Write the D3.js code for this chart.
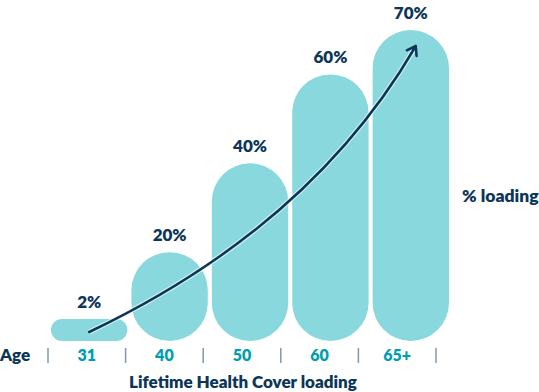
<!DOCTYPE html>
<html>
<head>
<meta charset="utf-8">
<script src="https://cdn.jsdelivr.net/npm/d3@7"></script>
<style>
  body { margin: 0; background: #fff; }
  text { font-family: Lato, "Open Sans", sans-serif; font-weight: 800; }
</style>
</head>
<body>
<div id="chart"></div>
<script>
// data
const ages = ["31", "40", "50", "60", "65+"];
const loadings = [2, 20, 40, 60, 70];
const loadingLabels = ["2%", "20%", "40%", "60%", "70%"];

const width = 539;
const height = 392;
const baseline = 341;

const navy = "#0b3657";
const teal = "#009fb0";
const barFill = "#88d8dd";

const svg = d3
  .select("#chart")
  .append("svg")
  .attr("width", width)
  .attr("height", height)
  .attr("viewBox", [0, 0, width, height]);

// bar scale
const x = d3.scaleBand().domain(ages).range([51, 449]).paddingInner(0.05);
const y = d3.scaleLinear().domain([0, 70]).range([baseline, 30]);
const minH = 22;
const barTop = (v) => Math.min(y(v), baseline - minH);

const data = ages.map((a, i) => ({ age: a, value: loadings[i], label: loadingLabels[i] }));

svg
  .append("g")
  .attr("fill", barFill)
  .selectAll("rect")
  .data(data)
  .join("rect")
  .attr("x", (d) => x(d.age))
  .attr("y", (d) => barTop(d.value))
  .attr("width", x.bandwidth())
  .attr("height", (d) => baseline - barTop(d.value))
  .attr("rx", (d) => Math.min(x.bandwidth() / 2, (baseline - barTop(d.value)) / 2));

// value labels
svg
  .append("g")
  .attr("fill", navy)
  .attr("font-size", 17)
  .attr("text-anchor", "middle")
  .selectAll("text")
  .data(data)
  .join("text")
  .attr("x", (d) => x(d.age) + x.bandwidth() / 2)
  .attr("y", (d) => barTop(d.value) - 11)
  .text((d) => d.label);

// rising arrow
const first = data[0], last = data[data.length - 1];
const p0 = [x(first.age) + x.bandwidth() / 2, baseline - 9];
const p2 = [x(last.age) + x.bandwidth() / 2 + 5, y(last.value) + 16];
const p1 = [p0[0] + (p2[0] - p0[0]) * 0.68, p0[1] - (p0[1] - p2[1]) * 0.37];
const path = d3.path();
path.moveTo(p0[0], p0[1]);
path.quadraticCurveTo(p1[0], p1[1], p2[0], p2[1]);

svg.append("path")
  .attr("d", path.toString())
  .attr("fill", "none")
  .attr("stroke", "#fff")
  .attr("stroke-opacity", 0.6)
  .attr("stroke-width", 5);
svg.append("path")
  .attr("d", path.toString())
  .attr("fill", "none")
  .attr("stroke", navy)
  .attr("stroke-width", 2.5)
  .attr("stroke-linecap", "round");

// arrow head
const ang = Math.atan2(p2[1] - p1[1], p2[0] - p1[0]);
const hl = 10, ha = 0.6;
svg.append("path")
  .attr("d", `M${p2[0] - hl * Math.cos(ang - ha)},${p2[1] - hl * Math.sin(ang - ha)}L${p2[0]},${p2[1]}L${p2[0] - hl * Math.cos(ang + ha)},${p2[1] - hl * Math.sin(ang + ha)}`)
  .attr("fill", "none")
  .attr("stroke", navy)
  .attr("stroke-width", 2.5)
  .attr("stroke-linecap", "round")
  .attr("stroke-linejoin", "round");

// age axis
const xa = d3.scaleBand().domain(ages).range([48, 436]);
const axis = svg.append("g")
  .attr("transform", "translate(0,355)")
  .call(d3.axisBottom(xa).tickSize(0).tickPadding(0))
  .call((g) => g.select(".domain").remove());
axis.selectAll(".tick text")
  .attr("dy", "0.35em")
  .attr("y", 0)
  .attr("fill", teal)
  .attr("font-size", 16)
  .attr("font-family", "Lato, sans-serif")
  .attr("font-weight", 800);

svg.append("g")
  .attr("stroke", "#7f98ad")
  .attr("stroke-width", 1.5)
  .selectAll("line")
  .data(ages.map((a) => xa(a)).concat([xa.range()[1]]))
  .join("line")
  .attr("x1", (d) => d)
  .attr("x2", (d) => d)
  .attr("y1", 348)
  .attr("y2", 363);

svg.append("text")
  .attr("x", 0)
  .attr("y", 355)
  .attr("dy", "0.35em")
  .attr("fill", navy)
  .attr("font-size", 17)
  .text("Age");

svg.append("text")
  .attr("x", 243)
  .attr("y", 382)
  .attr("dy", "0.35em")
  .attr("text-anchor", "middle")
  .attr("fill", navy)
  .attr("font-size", 17)
  .text("Lifetime Health Cover loading");

svg.append("text")
  .attr("x", 462)
  .attr("y", 196)
  .attr("dy", "0.35em")
  .attr("fill", navy)
  .attr("font-size", 17.5)
  .text("% loading");
</script>
</body>
</html>
